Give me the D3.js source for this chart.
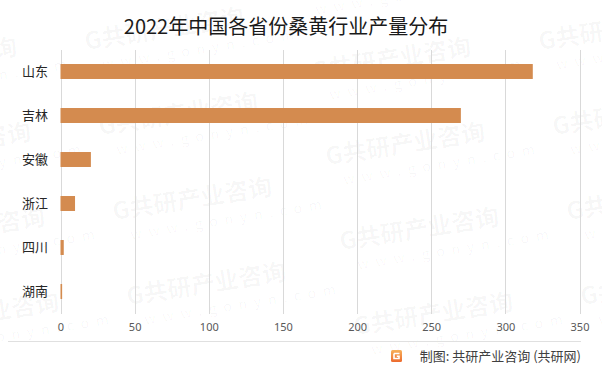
<!DOCTYPE html>
<html>
<head>
<meta charset="utf-8">
<script src="https://cdn.jsdelivr.net/npm/d3@7"></script>
<style>
  html, body { margin: 0; padding: 0; background: #fff; }
  text { font-family: "Noto Sans CJK SC", "Noto Sans", sans-serif; }
</style>
</head>
<body>
<div id="container"></div>
<script>
// data
const provinces = ['山东', '吉林', '安徽', '浙江', '四川', '湖南'];
const output = [318.5, 270, 20.5, 9.8, 2.2, 1.1];
const xTicks = [0, 50, 100, 150, 200, 250, 300, 350];
const title = '2022年中国各省份桑黄行业产量分布';
const source = '制图: 共研产业咨询 (共研网)';

const width = 602;
const height = 373;

const svg = d3.select('#container').append('svg')
  .attr('width', width)
  .attr('height', height);

svg.append('rect')
  .attr('width', width)
  .attr('height', height)
  .attr('fill', '#fff');

// faint watermark tiles, clipped to the picture
svg.append('clipPath').attr('id', 'wmClip')
  .append('rect').attr('width', width).attr('height', height);
const wm = svg.append('g').attr('class', 'watermark').attr('clip-path', 'url(#wmClip)');
const tiles = [];
for (let c = 0; c < 4; c++) {
  const x0 = -155 + c * 227;
  const yBase = c % 2 === 0 ? -5 : -35;
  for (let r = 0; r < 5; r++) {
    tiles.push([x0 + r * 14, yBase + r * 85]);
  }
}
tiles.forEach(([tx, ty]) => {
  const g = wm.append('g').attr('transform', `translate(${tx},${ty}) rotate(-9)`);
  g.append('text')
    .attr('x', 0).attr('y', 0)
    .attr('font-size', 24)
    .attr('font-weight', 'bold')
    .attr('fill', '#000')
    .attr('fill-opacity', 0.035)
    .text('G共研产业咨询');
  g.append('text')
    .attr('x', 14).attr('y', 22)
    .attr('font-size', 14)
    .attr('letter-spacing', 7)
    .attr('fill', '#000')
    .attr('fill-opacity', 0.035)
    .text('www.gonyn.com');
});

const x = d3.scaleLinear()
  .domain([0, 350])
  .range([60.5, 579.5]);

const y = d3.scaleBand()
  .domain(provinces)
  .range([49.5, 313.5])
  .paddingInner(0.66)
  .paddingOuter(0.33);

// x axis with gridlines
const xAxis = svg.append('g')
  .attr('transform', 'translate(0,313.5)')
  .call(d3.axisBottom(x)
    .tickValues(xTicks)
    .tickSizeInner(-263.5)
    .tickSizeOuter(0)
    .tickPadding(10));

xAxis.select('.domain').remove();
xAxis.selectAll('.tick line')
  .attr('stroke', '#d9d9d9')
  .attr('shape-rendering', 'crispEdges');
xAxis.selectAll('.tick text')
  .attr('font-size', 11)
  .attr('fill', '#595959')
  .style('font-family', '"Noto Sans", "Noto Sans CJK SC", sans-serif');

// bars
svg.append('g')
  .selectAll('rect')
  .data(provinces)
  .join('rect')
  .attr('x', x(0))
  .attr('y', d => y(d))
  .attr('width', (d, i) => x(output[i]) - x(0))
  .attr('height', y.bandwidth())
  .attr('fill', '#d48b4f');

// category labels
svg.append('g')
  .selectAll('text')
  .data(provinces)
  .join('text')
  .attr('x', 48)
  .attr('y', d => y(d) + y.bandwidth() / 2)
  .attr('dy', '0.36em')
  .attr('text-anchor', 'end')
  .attr('font-size', 13)
  .attr('fill', '#262626')
  .text(d => d);

// title
svg.append('text')
  .attr('x', 286)
  .attr('y', 34)
  .attr('text-anchor', 'middle')
  .attr('font-size', 20)
  .attr('fill', '#1a1a1a')
  .text(title);

// footer
svg.append('line')
  .attr('x1', 8).attr('x2', 581)
  .attr('y1', 341.5).attr('y2', 341.5)
  .attr('stroke', '#e0e0e0');

const defs = svg.append('defs');
const grad = defs.append('linearGradient')
  .attr('id', 'logoGrad')
  .attr('x1', 0).attr('y1', 0).attr('x2', 0).attr('y2', 1);
grad.append('stop').attr('offset', '0%').attr('stop-color', '#f7b15a');
grad.append('stop').attr('offset', '100%').attr('stop-color', '#ec6a2e');

const logo = svg.append('g').attr('transform', 'translate(391,350)');
logo.append('rect')
  .attr('width', 11).attr('height', 12)
  .attr('rx', 1.5)
  .attr('fill', 'url(#logoGrad)');
logo.append('path')
  .attr('d', 'M3,3.5 H8.5 M3,3.5 V8.5 H8 V6.2 H5.8')
  .attr('fill', 'none')
  .attr('stroke', '#fff')
  .attr('stroke-width', 1.6);

svg.append('text')
  .attr('x', 581)
  .attr('y', 356)
  .attr('dy', '0.36em')
  .attr('text-anchor', 'end')
  .attr('font-size', 13)
  .attr('fill', '#404040')
  .text(source);
</script>
</body>
</html>
